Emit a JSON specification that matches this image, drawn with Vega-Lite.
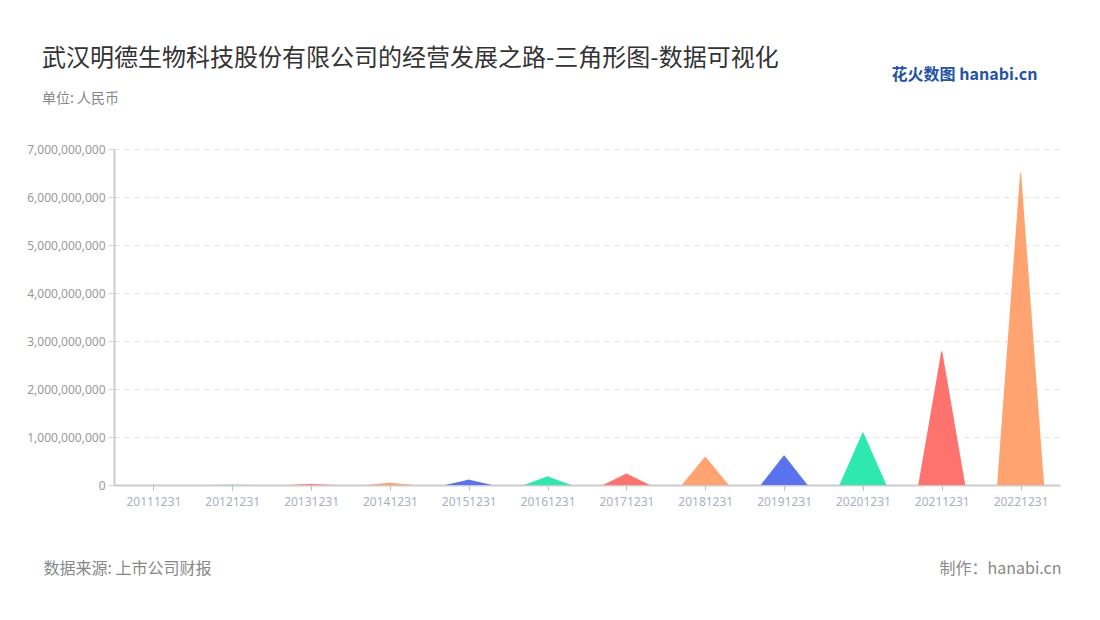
{
  "$schema": "https://vega.github.io/schema/vega-lite/v6.json",
  "width": 946,
  "height": 336,
  "autosize": "none",
  "padding": {"left": 114, "top": 149, "right": 40, "bottom": 135},
  "background": "white",
  "config": {"view": {"stroke": null}, "font": "Noto Sans CJK SC"},
  "title": {
    "text": "武汉明德生物科技股份有限公司的经营发展之路-三角形图-数据可视化",
    "subtitle": "单位: 人民币",
    "anchor": "start",
    "frame": "group",
    "dx": -72,
    "offset": -40,
    "font": "Noto Sans CJK SC",
    "fontSize": 24,
    "fontWeight": "normal",
    "color": "#333333",
    "subtitleFont": "Noto Sans CJK SC",
    "subtitleFontSize": 14,
    "subtitleColor": "#888888",
    "subtitlePadding": 21
  },
  "data": {
    "values": [
      {"date": "20111231", "part": "top", "value": 2000000},
      {"date": "20121231", "part": "top", "value": 3000000},
      {"date": "20131231", "part": "top", "value": 20000000},
      {"date": "20141231", "part": "top", "value": 45000000},
      {"date": "20151231", "part": "top", "value": 110000000},
      {"date": "20161231", "part": "top", "value": 175000000},
      {"date": "20171231", "part": "top", "value": 235000000},
      {"date": "20181231", "part": "top", "value": 585000000},
      {"date": "20191231", "part": "top", "value": 610000000},
      {"date": "20201231", "part": "top", "value": 1090000000},
      {"date": "20211231", "part": "top", "value": 2780000000},
      {"date": "20221231", "part": "top", "value": 6500000000}
    ]
  },
  "transform": [
    {"impute": "value", "key": "part", "keyvals": ["base", "top"], "groupby": ["date"], "value": 0}
  ],
  "layer": [
    {
      "mark": {"type": "trail", "clip": true},
      "encoding": {
        "x": {
          "field": "date",
          "type": "ordinal",
          "axis": {
            "title": "数据来源: 上市公司财报",
            "titleX": -71,
            "titleY": 88,
            "titleAlign": "left",
            "titleBaseline": "alphabetic",
            "titleFontSize": 16,
            "titleFontWeight": "normal",
            "titleColor": "#888888",
            "labelAngle": 0,
            "labelColor": "#a9b0c2",
            "labelFont": "Noto Sans",
            "labelFontSize": 12,
            "labelPadding": 6,
            "tickColor": "#bbbbbb",
            "tickSize": 5,
            "domainColor": "#cccccc",
            "domainWidth": 2,
            "grid": false
          }
        },
        "y": {
          "field": "value",
          "type": "quantitative",
          "scale": {"domain": [0, 7000000000], "nice": false},
          "axis": {
            "values": [0, 1000000000, 2000000000, 3000000000, 4000000000, 5000000000, 6000000000, 7000000000],
            "format": ",d",
            "labelColor": "#999999",
            "labelFont": "Noto Sans",
            "labelFontSize": 12,
            "labelPadding": 4,
            "gridDash": [5, 5],
            "gridColor": "#e3e3e3",
            "domainColor": "#cccccc",
            "domainWidth": 2,
            "tickColor": "#cccccc",
            "tickSize": 5,
            "title": "制作：hanabi.cn",
            "titleAngle": 0,
            "titleX": 947,
            "titleY": 424,
            "titleAlign": "right",
            "titleBaseline": "alphabetic",
            "titleFontSize": 16,
            "titleFontWeight": "normal",
            "titleColor": "#888888"
          }
        },
        "order": {"field": "part"},
        "size": {"condition": {"test": "datum.part === 'base'", "value": 47}, "value": 0},
        "color": {
          "field": "date",
          "type": "nominal",
          "legend": null,
          "scale": {
            "domain": ["20111231", "20121231", "20131231", "20141231", "20151231", "20161231", "20171231", "20181231", "20191231", "20201231", "20211231", "20221231"],
            "range": ["#5a72ee", "#2ee8b0", "#ff736f", "#ffa370", "#5a72ee", "#2ee8b0", "#ff736f", "#ffa370", "#5a72ee", "#2ee8b0", "#ff736f", "#ffa370"]
          }
        }
      }
    },
    {
      "mark": {"type": "text"},
      "encoding": {
        "x": {
          "field": "date",
          "type": "ordinal",
          "axis": {
            "orient": "top",
            "labels": false,
            "ticks": false,
            "domain": false,
            "grid": false,
            "title": "花火数图 hanabi.cn",
            "titleX": 923,
            "titleY": -70,
            "titleAlign": "right",
            "titleBaseline": "alphabetic",
            "titleFontSize": 16,
            "titleFontWeight": "bold",
            "titleColor": "#2453a5"
          }
        },
        "text": {"value": ""}
      }
    }
  ],
  "resolve": {"axis": {"x": "independent"}}
}
